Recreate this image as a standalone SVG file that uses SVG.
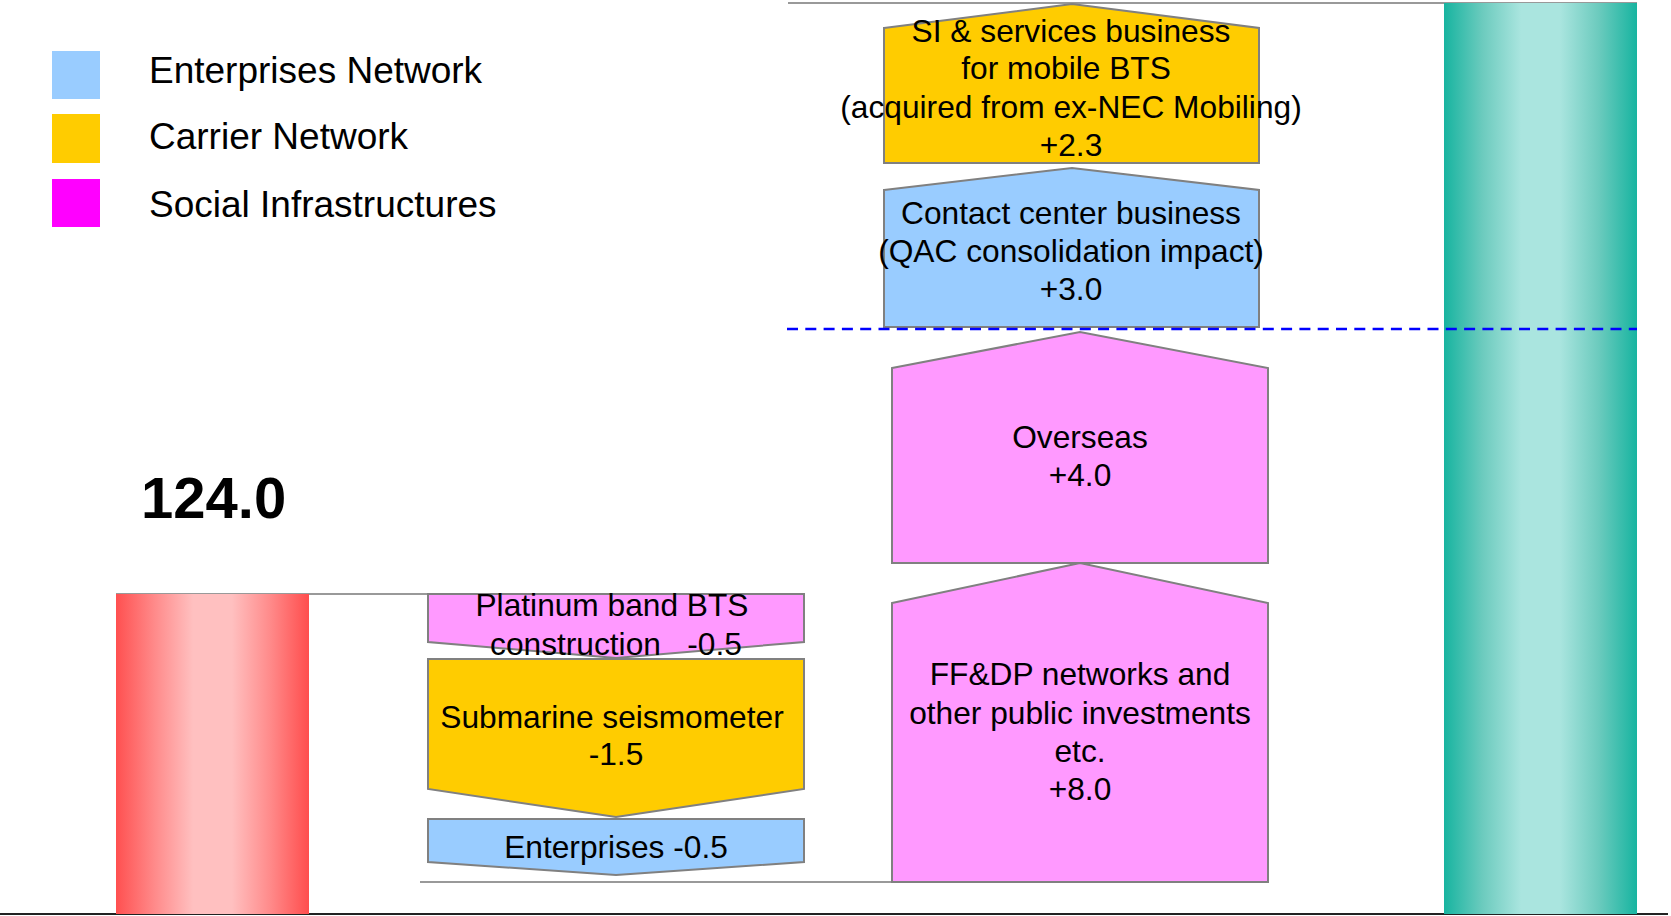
<svg xmlns="http://www.w3.org/2000/svg" width="1671" height="916" viewBox="0 0 1671 916">
  <defs>
    <linearGradient id="gradRed" x1="0" y1="0" x2="1" y2="0">
      <stop offset="0" stop-color="#ff5050"/>
      <stop offset="0.2" stop-color="#ff8a8a"/>
      <stop offset="0.4" stop-color="#ffc0c0"/>
      <stop offset="0.6" stop-color="#ffc0c0"/>
      <stop offset="0.8" stop-color="#ff8a8a"/>
      <stop offset="1" stop-color="#ff4d4d"/>
    </linearGradient>
    <linearGradient id="gradTeal" x1="0" y1="0" x2="1" y2="0">
      <stop offset="0" stop-color="#17b4a0"/>
      <stop offset="0.2" stop-color="#6ccbbe"/>
      <stop offset="0.4" stop-color="#aae5df"/>
      <stop offset="0.6" stop-color="#aae5df"/>
      <stop offset="0.8" stop-color="#6ccbbe"/>
      <stop offset="1" stop-color="#17b4a0"/>
    </linearGradient>
  </defs>
  <style>
    text { font-family: "Liberation Sans", Arial, sans-serif; fill: #000; }
    .lg { font-size: 37px; }
    .lb { font-size: 31.7px; text-anchor: middle; }
    .total { font-size: 58px; font-weight: bold; }
    .box { stroke: #808080; stroke-width: 2; }
    .ent { fill: #99ccff; }
    .car { fill: #ffcc00; }
    .soc { fill: #ff99ff; }
    .guide { stroke: #999; stroke-width: 2; fill: none; }
  </style>

  <rect x="0" y="0" width="1671" height="916" fill="#fff"/>

  <!-- legend -->
  <g id="legend">
    <rect x="52" y="51" width="48" height="48" fill="#99ccff"/>
    <rect x="52" y="114" width="48" height="49" fill="#ffcc00"/>
    <rect x="52" y="179" width="48" height="48" fill="#ff00ff"/>
    <text class="lg" x="149" y="83">Enterprises Network</text>
    <text class="lg" x="149" y="149">Carrier Network</text>
    <text class="lg" x="149" y="216.5">Social Infrastructures</text>
  </g>

  <!-- guide lines -->
  <g id="connectors">
    <line class="guide" x1="788" y1="3" x2="1637" y2="3"/>
    <line class="guide" x1="116" y1="594" x2="804" y2="594"/>
    <line class="guide" x1="420" y1="882" x2="1268" y2="882"/>
    <line x1="0" y1="914" x2="1668" y2="914" stroke="#222" stroke-width="2"/>
  </g>

  <!-- start and end bars -->
  <g id="bar-start">
    <rect x="116" y="594" width="193" height="320" fill="url(#gradRed)"/>
    <text class="total" x="141" y="518">124.0</text>
  </g>
  <g id="bar-end">
    <rect x="1444" y="3" width="193" height="911" fill="url(#gradTeal)"/>
  </g>

  <!-- decreases -->
  <g id="platinum">
    <polygon class="box soc" points="428,594 804,594 804,642 616,658 428,642"/>
    <text class="lb" x="612" y="616">Platinum band BTS</text>
    <text class="lb" x="616" y="655" xml:space="preserve">construction   -0.5</text>
  </g>
  <g id="submarine">
    <polygon class="box car" points="428,659 804,659 804,789 616,817 428,789"/>
    <text class="lb" x="612" y="728">Submarine seismometer</text>
    <text class="lb" x="616" y="765">-1.5</text>
  </g>
  <g id="enterprises">
    <polygon class="box ent" points="428,819 804,819 804,862 616,875 428,862"/>
    <text class="lb" x="616" y="858">Enterprises -0.5</text>
  </g>

  <!-- increases -->
  <g id="ffdp">
    <polygon class="box soc" points="892,603 1080,563 1268,603 1268,882 892,882"/>
    <text class="lb" x="1080" y="685">FF&amp;DP networks and</text>
    <text class="lb" x="1080" y="724">other public investments</text>
    <text class="lb" x="1080" y="762">etc.</text>
    <text class="lb" x="1080" y="800">+8.0</text>
  </g>
  <g id="overseas">
    <polygon class="box soc" points="892,368 1080,332 1268,368 1268,563 892,563"/>
    <text class="lb" x="1080" y="448">Overseas</text>
    <text class="lb" x="1080" y="486">+4.0</text>
  </g>
  <g id="contact-center">
    <polygon class="box ent" points="884,190 1072,168 1259,190 1259,327 884,327"/>
    <text class="lb" x="1071" y="224">Contact center business</text>
    <text class="lb" x="1071" y="262">(QAC consolidation impact)</text>
    <text class="lb" x="1071" y="300">+3.0</text>
  </g>
  <g id="si-services">
    <polygon class="box car" points="884,28 1072,4 1259,28 1259,163 884,163"/>
    <text class="lb" x="1071" y="42">SI &amp; services business</text>
    <text class="lb" x="1066" y="79">for mobile BTS</text>
    <text class="lb" x="1071" y="118">(acquired from ex-NEC Mobiling)</text>
    <text class="lb" x="1071" y="156">+2.3</text>
  </g>

  <!-- threshold line -->
  <line x1="787" y1="329" x2="1637" y2="329" stroke="#0000ff" stroke-width="2.5" stroke-dasharray="11 7.3"/>
</svg>
